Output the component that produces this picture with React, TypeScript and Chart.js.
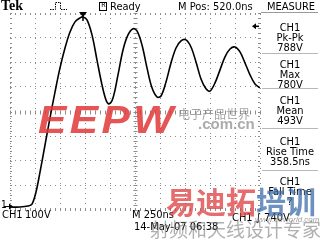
import React, { useEffect, useRef } from "react";
import { Chart, registerables } from "chart.js";

Chart.register(...registerables);

// ---- data (time in ns, CH1 voltage in V) ----
const timeNs = [
  0, 100, 180, 220, 260, 300, 350, 400, 450, 500, 550, 600, 650, 700, 730, 770,
  820, 870, 920, 960, 990, 1030, 1080, 1130, 1180, 1230, 1270, 1320, 1370, 1420,
  1470, 1510, 1560, 1610, 1660, 1710, 1760, 1810, 1860, 1910, 1960, 2000, 2050,
  2100, 2150, 2200, 2250, 2300, 2350, 2400, 2450, 2500,
];
const volts = [
  -4, -4, 0, 8, 57, 138, 248, 358, 463, 561, 642, 707, 748, 764, 768, 756,
  695, 593, 492, 431, 415, 439, 533, 634, 695, 720, 711, 654, 561, 480,
  443, 447, 504, 581, 642, 671, 675, 646, 585, 516, 476, 467, 500,
  553, 606, 638, 646, 626, 581, 533, 496, 480,
];
const xDivNs = [0, 250, 500, 750, 1000, 1250, 1500, 1750, 2000, 2250, 2500];
const yDivVolts = [-16, 84, 184, 284, 384, 484, 584, 684, 784];
const triggerTimeNs = 730;
const triggerLevelV = 730;

const measureChannel = ["CH1", "CH1", "CH1", "CH1", "CH1"];
const measureNames = ["Pk-Pk", "Max", "Mean", "Rise Time", "Fall Time"];
const measureValues = ["788V", "780V", "493V", "358.5ns", "?"];

const FONT = '"Liberation Sans Narrow", "Arial Narrow", "DejaVu Sans Condensed", sans-serif';
const GRID = "#8c8c8c";

function T(props: { x: number; y: number; size?: number; w?: number; center?: boolean; style?: React.CSSProperties; children: React.ReactNode }) {
  const { x, y, size = 11, w, center, style, children } = props;
  return (
    <div
      style={{
        position: "absolute",
        left: x,
        top: y,
        width: w,
        textAlign: center ? "center" : "left",
        fontFamily: FONT,
        fontSize: size,
        lineHeight: `${size}px`,
        whiteSpace: "nowrap",
        color: "#000",
        ...style,
      }}
    >
      {children}
    </div>
  );
}

const rulerPlugin = {
  id: "tekRuler",
  beforeDatasetsDraw(chart: any) {
    const { ctx, chartArea: a, scales } = chart;
    const xs = scales.x;
    const ys = scales.y;
    ctx.save();
    ctx.strokeStyle = GRID;
    ctx.lineWidth = 1;
    const cx = Math.round(xs.getPixelForValue(1250)) + 0.5;
    const cy = Math.round(ys.getPixelForValue(384)) + 0.5;
    ctx.beginPath();
    for (let i = 0; i <= 50; i++) {
      const px = Math.round(xs.getPixelForValue(i * 50)) + 0.5;
      ctx.moveTo(px, a.top);
      ctx.lineTo(px, a.top + 2);
      ctx.moveTo(px, a.bottom);
      ctx.lineTo(px, a.bottom - 2);
      ctx.moveTo(px, cy - 2);
      ctx.lineTo(px, cy + 2);
    }
    for (let i = 0; i <= 40; i++) {
      const py = Math.round(ys.getPixelForValue(-16 + i * 20)) + 0.5;
      ctx.moveTo(a.left, py);
      ctx.lineTo(a.left + 2, py);
      ctx.moveTo(a.right, py);
      ctx.lineTo(a.right - 2, py);
      ctx.moveTo(cx - 2, py);
      ctx.lineTo(cx + 2, py);
    }
    ctx.stroke();
    ctx.restore();
  },
  afterDatasetsDraw(chart: any) {
    const { ctx, chartArea: a, scales } = chart;
    const xs = scales.x;
    const ys = scales.y;
    ctx.save();
    ctx.fillStyle = "#000";
    ctx.strokeStyle = "#000";
    // trigger position marker
    const tx = xs.getPixelForValue(triggerTimeNs);
    ctx.beginPath();
    ctx.moveTo(tx - 4, a.top - 1);
    ctx.lineTo(tx + 4, a.top - 1);
    ctx.lineTo(tx, a.top + 4);
    ctx.closePath();
    ctx.fill();
    ctx.lineWidth = 1.5;
    ctx.beginPath();
    ctx.moveTo(tx, a.top);
    ctx.lineTo(tx, a.top + 8);
    ctx.stroke();
    // trigger level arrow
    const ty = ys.getPixelForValue(triggerLevelV);
    ctx.beginPath();
    ctx.moveTo(a.right - 8, ty);
    ctx.lineTo(a.right - 4, ty - 3);
    ctx.lineTo(a.right - 4, ty + 3);
    ctx.closePath();
    ctx.fill();
    ctx.lineWidth = 1.5;
    ctx.beginPath();
    ctx.moveTo(a.right - 5, ty);
    ctx.lineTo(a.right - 1, ty);
    ctx.stroke();
    // ground marker arrow
    const gy = ys.getPixelForValue(0);
    ctx.lineWidth = 1;
    ctx.beginPath();
    ctx.moveTo(4, gy + 0.5);
    ctx.lineTo(a.left + 1, gy + 0.5);
    ctx.stroke();
    ctx.beginPath();
    ctx.moveTo(a.left + 3, gy + 0.5);
    ctx.lineTo(a.left - 1, gy - 2.5);
    ctx.lineTo(a.left - 1, gy + 3.5);
    ctx.closePath();
    ctx.fill();
    ctx.restore();
  },
};

export default function App() {
  const ref = useRef<HTMLCanvasElement | null>(null);

  useEffect(() => {
    document.body.style.margin = "0";
    if (!ref.current) return;
    const chart = new Chart(ref.current, {
      type: "line",
      data: {
        datasets: [
          {
            data: timeNs.map((t, i) => ({ x: t, y: volts[i] })),
            borderColor: "#000",
            borderWidth: 1.6,
            pointRadius: 0,
            tension: 0.35,
            fill: false,
          },
        ],
      },
      options: {
        responsive: false,
        animation: false,
        events: [],
        layout: { padding: { left: 10, top: 13, right: 60, bottom: 30 } },
        plugins: { legend: { display: false }, tooltip: { enabled: false } },
        scales: {
          x: {
            type: "linear",
            min: 0,
            max: 2500,
            afterBuildTicks: (s: any) => {
              s.ticks = xDivNs.map((v) => ({ value: v }));
            },
            ticks: { display: false },
            grid: { color: GRID, drawTicks: false, lineWidth: 1 },
            border: { display: false, dash: [1, 4] },
          },
          y: {
            type: "linear",
            min: -16,
            max: 784,
            afterBuildTicks: (s: any) => {
              s.ticks = yDivVolts.map((v) => ({ value: v }));
            },
            ticks: { display: false },
            grid: { color: GRID, drawTicks: false, lineWidth: 1 },
            border: { display: false, dash: [1, 4] },
          },
        },
      },
      plugins: [rulerPlugin],
    } as any);
    return () => chart.destroy();
  }, []);

  const blockTops = [22, 59, 95, 136, 176];
  const separators = [53, 88, 128, 170];

  return (
    <div style={{ position: "fixed", left: 0, top: 0, width: 320, height: 240, background: "#fff", overflow: "hidden" }}>
      <canvas ref={ref} width={320} height={240} style={{ position: "absolute", left: 0, top: 0 }} />

      {/* top status line */}
      <T x={1} y={-1} size={14} style={{ fontFamily: '"Liberation Serif", serif', fontWeight: 700 }}>Tek</T>
      <svg style={{ position: "absolute", left: 50, top: 1 }} width={18} height={10}>
        <path d="M0 8.5 H5.5 V1.5 H10.5 V8.5 H17" stroke="#000" strokeWidth={1} fill="none" strokeDasharray="1.5 1" />
      </svg>
      <div style={{ position: "absolute", left: 99, top: 2, width: 6, height: 7, border: "1px solid #000" }} />
      <T x={100} y={2} size={7} w={7} center>R</T>
      <T x={110} y={1} size={11}>Ready</T>
      <T x={178} y={1} size={11}>M Pos: 520.0ns</T>
      <T x={262} y={1} size={11} w={58} center>MEASURE</T>
      <div style={{ position: "absolute", left: 261, top: 12, width: 57, height: 1, background: "#9a9a9a" }} />

      {/* measurement panel */}
      {measureNames.map((n, i) => (
        <React.Fragment key={n}>
          <T x={262} y={blockTops[i]} w={56} center>{measureChannel[i]}</T>
          <T x={262} y={blockTops[i] + 10} w={56} center>{n}</T>
          <T x={262} y={blockTops[i] + 20} w={56} center>{measureValues[i]}</T>
        </React.Fragment>
      ))}
      {separators.map((s) => (
        <div key={s} style={{ position: "absolute", left: 262, top: s, width: 56, height: 1, background: "#b8b8b8" }} />
      ))}

      {/* ground marker label */}
      <T x={1} y={200} size={10}>1</T>

      {/* bottom status */}
      <T x={2} y={209}>CH1</T>
      <T x={25} y={209}>100V</T>
      <T x={132} y={209}>M 250ns</T>
      <T x={134} y={221}>14-May-07 06:38</T>
      <T x={232} y={212}>CH1 ∫ 740V</T>

      {/* watermarks */}
      <div style={{ position: "absolute", left: 38, top: 101, fontFamily: '"Liberation Sans", sans-serif', fontWeight: 700, fontStyle: "italic", fontSize: 38, lineHeight: "38px", color: "rgba(225,55,55,0.85)", letterSpacing: 3, transform: "scaleX(1.12)", transformOrigin: "left top" }}>EEPW</div>
      <div style={{ position: "absolute", left: 178, top: 108, fontFamily: '"Noto Sans CJK SC", sans-serif', fontSize: 12, lineHeight: "12px", color: "rgba(140,140,140,0.8)" }}>电子产品世界</div>
      <div style={{ position: "absolute", left: 198, top: 116, fontFamily: '"Liberation Sans", sans-serif', fontWeight: 700, fontSize: 15, lineHeight: "15px", color: "rgba(150,150,150,0.8)" }}>.com.cn</div>

      <div style={{ position: "absolute", left: 166, top: 183, fontFamily: '"Noto Sans CJK SC", sans-serif', fontWeight: 700, fontSize: 30, lineHeight: "34px", letterSpacing: 0, whiteSpace: "nowrap" }}>
        <span style={{ color: "rgba(220,60,60,0.75)" }}>易迪拓</span>
        <span style={{ color: "rgba(60,110,170,0.75)" }}>培训</span>
      </div>
      <div style={{ position: "absolute", left: 255, top: 216, fontFamily: '"Liberation Sans", sans-serif', fontStyle: "italic", fontSize: 8, lineHeight: "8px", color: "rgba(120,120,120,0.7)" }}>www.eeworld.com.cn</div>
      <div style={{ position: "absolute", left: 150, top: 219, fontFamily: '"Noto Sans CJK SC", sans-serif', fontSize: 19, lineHeight: "20px", color: "rgba(110,110,110,0.55)", whiteSpace: "nowrap" }}>射频和天线设计专家</div>
    </div>
  );
}
